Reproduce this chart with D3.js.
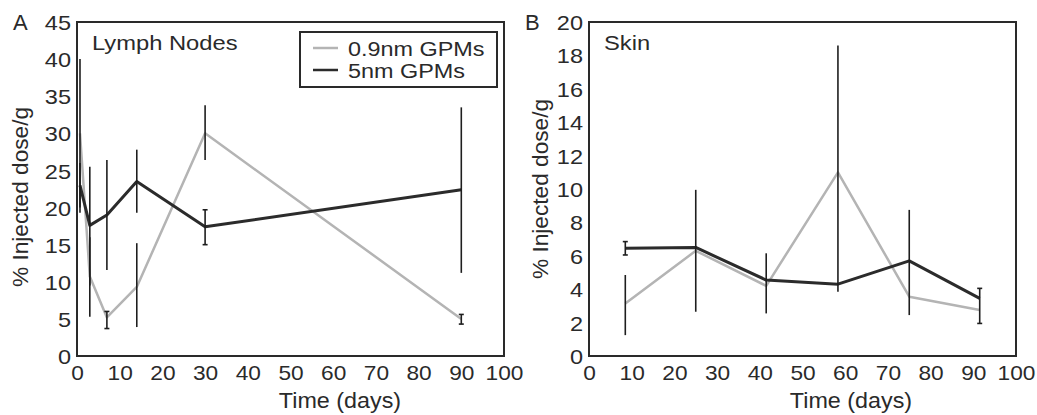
<!DOCTYPE html>
<html>
<head>
<meta charset="utf-8">
<script src="https://cdn.jsdelivr.net/npm/d3@7"></script>
<style>
  html, body { margin: 0; padding: 0; background: #fff; }
  svg { display: block; }
  text { font-family: "Liberation Sans", Arial, sans-serif; fill: #2a2a2a; }
</style>
</head>
<body>
<svg id="chart" width="1037" height="415"></svg>
<script>
// ---------- DATA ----------
// Panel A: Lymph Nodes
const daysA = [0.7, 3, 7, 14, 30, 90];
const smallA = [30, 10.7, 5.2, 9.3, 30, 5];          // 0.9nm GPMs
const largeA = [23, 17.6, 19, 23.5, 17.4, 22.4];      // 5nm GPMs
const smallErrLoA = [19.3, 5.3, 3.7, 3.9, 26.4, 4.3];
const smallErrHiA = [40, 16, 6, 15.2, 33.8, 5.6];
const largeErrLoA = [20, 9.5, 11.6, 19.3, 15, 11.2];
const largeErrHiA = [26, 25.5, 26.4, 27.8, 19.7, 33.5];
const yTicksA = [0, 5, 10, 15, 20, 25, 30, 35, 40, 45];

// Panel B: Skin
const daysB = [8.5, 25, 41.5, 58.3, 75, 91.5];
const smallB = [3.15, 6.3, 4.2, 11, 3.55, 2.75];
const largeB = [6.45, 6.5, 4.55, 4.3, 5.7, 3.45];
const smallErrLoB = [1.25, null, null, 3.85, null, null];
const smallErrHiB = [4.85, null, null, 18.6, null, null];
const largeErrLoB = [6.05, 2.65, 2.55, null, 2.45, 1.95];
const largeErrHiB = [6.85, 9.95, 6.15, null, 8.75, 4.05];
const yTicksB = [0, 2, 4, 6, 8, 10, 12, 14, 16, 18, 20];

const xTicks = [0, 10, 20, 30, 40, 50, 60, 70, 80, 90, 100];
const seriesNames = ["0.9nm GPMs", "5nm GPMs"];

// ---------- STYLE ----------
const cSmall = "#b4b4b4", cLarge = "#2b2b2b", cErr = "#1e1e1e", cAxis = "#2a2a2a";
const svg = d3.select("#chart");

function stretch(sel, k) {
  sel.each(function () {
    const len = this.getComputedTextLength();
    d3.select(this).attr("textLength", len * k).attr("lengthAdjust", "spacingAndGlyphs");
  });
}

function panel(cfg) {
  const { left, right, top, bottom, yMax, yTicks, days, small, large,
          sLo, sHi, lLo, lHi, letter, title, yTitleX, yTitleY, xTitleX } = cfg;
  const x = d3.scaleLinear().domain([0, 100]).range([left, right]);
  const y = d3.scaleLinear().domain([0, yMax]).range([bottom, top]);
  const g = svg.append("g");

  const ya = g.append("g").attr("transform", `translate(${left},0)`)
    .call(d3.axisLeft(y).tickValues(yTicks).tickSize(0).tickPadding(6).tickFormat(d3.format("d")));
  ya.select(".domain").remove();
  ya.selectAll("text").style("font-size", "21px").style("font-family", "Liberation Sans, Arial, sans-serif")
    .attr("fill", "#2a2a2a").attr("dy", "0.36em");
  stretch(ya.selectAll("text"), 1.12);

  const xa = g.append("g").attr("transform", `translate(0,${bottom})`)
    .call(d3.axisBottom(x).tickValues(xTicks).tickSize(0).tickPadding(9).tickFormat(d3.format("d")));
  xa.select(".domain").remove();
  xa.selectAll("text").style("font-size", "21px").style("font-family", "Liberation Sans, Arial, sans-serif")
    .attr("fill", "#2a2a2a");
  stretch(xa.selectAll("text"), 1.08);

  g.append("rect").attr("x", left).attr("y", top)
    .attr("width", right - left).attr("height", bottom - top)
    .attr("fill", "none").attr("stroke", cAxis).attr("stroke-width", 2);

  const line = d3.line().x((d, i) => x(days[i])).y(d => y(d));
  g.append("path").datum(small).attr("d", line).attr("fill", "none")
    .attr("stroke", cSmall).attr("stroke-width", 2.5).attr("stroke-linejoin", "round");
  g.append("path").datum(large).attr("d", line).attr("fill", "none")
    .attr("stroke", cLarge).attr("stroke-width", 3).attr("stroke-linejoin", "round");

  function errBars(lo, hi) {
    const eg = g.append("g").attr("stroke", cErr).attr("stroke-width", 1.6);
    days.forEach((d, i) => {
      if (lo[i] == null) return;
      const xx = x(d), y1 = y(lo[i]), y2 = y(hi[i]);
      eg.append("line").attr("x1", xx).attr("x2", xx).attr("y1", y1).attr("y2", y2);
      if (Math.abs(y1 - y2) < 40) {
        [y1, y2].forEach(v => eg.append("line")
          .attr("x1", xx - 2.5).attr("x2", xx + 2.5).attr("y1", v).attr("y2", v));
      }
    });
  }
  errBars(sLo, sHi);
  errBars(lLo, lHi);

  g.append("text").attr("x", left - 64).attr("y", top + 8)
    .style("font-size", "22px").text(letter);
  const tt = g.append("text").attr("x", left + 15).attr("y", top + 28)
    .style("font-size", "21px").text(title);
  stretch(tt, 1.13);
  const xt = g.append("text").attr("x", xTitleX).attr("y", 408)
    .attr("text-anchor", "middle").style("font-size", "22px").text("Time (days)");
  stretch(xt, 1.06);
  const yt = g.append("text").attr("transform", `translate(${yTitleX},${yTitleY}) rotate(-90)`)
    .attr("text-anchor", "middle").style("font-size", "22px").text("% Injected dose/g");
  stretch(yt, 1.03);
  return { x, y, g };
}

panel({ left: 77, right: 504, top: 22, bottom: 356, yMax: 45, yTicks: yTicksA,
  days: daysA, small: smallA, large: largeA, sLo: smallErrLoA, sHi: smallErrHiA,
  lLo: largeErrLoA, lHi: largeErrHiA, letter: "A", title: "Lymph Nodes",
  yTitleX: 28, yTitleY: 197, xTitleX: 340 });

panel({ left: 589, right: 1016, top: 22, bottom: 356, yMax: 20, yTicks: yTicksB,
  days: daysB, small: smallB, large: largeB, sLo: smallErrLoB, sHi: smallErrHiB,
  lLo: largeErrLoB, lHi: largeErrHiB, letter: "B", title: "Skin",
  yTitleX: 548, yTitleY: 189, xTitleX: 851 });

// legend (panel A)
const lg = svg.append("g");
lg.append("rect").attr("x", 300).attr("y", 32).attr("width", 197).attr("height", 55)
  .attr("fill", "#fff").attr("stroke", cAxis).attr("stroke-width", 2);
const colors = [cSmall, cLarge];
seriesNames.forEach((n, i) => {
  const yy = 48 + i * 22;
  lg.append("line").attr("x1", 313).attr("x2", 338).attr("y1", yy).attr("y2", yy)
    .attr("stroke", colors[i]).attr("stroke-width", 2.5);
  const t = lg.append("text").attr("x", 348).attr("y", yy + 7.5)
    .style("font-size", "20px").text(n);
  stretch(t, 1.17);
});
</script>
</body>
</html>
